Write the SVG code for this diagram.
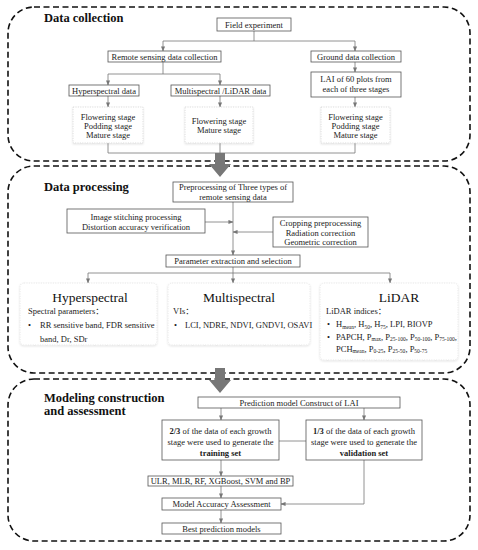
<svg xmlns="http://www.w3.org/2000/svg" width="478" height="550" viewBox="0 0 478 550">
<defs>
<style>
.sec{fill:none;stroke:#111;stroke-width:1.6;stroke-dasharray:6 3.5}
.box{fill:#fff;stroke:#555;stroke-width:0.8}
.soft{fill:#fff;stroke:#d4d4d4;stroke-width:0.8;stroke-dasharray:1.2 1.2}
.panel{fill:#fff;stroke:#e2e2e2;stroke-width:0.8;stroke-dasharray:1.2 1.2}
.t{font-family:"Liberation Serif","Times New Roman",serif;font-size:8.5px;fill:#222;text-anchor:middle}
.tl{font-family:"Liberation Serif","Times New Roman","Noto Sans CJK SC",serif;font-size:8.5px;fill:#222}
.title{font-family:"Liberation Serif","Times New Roman",serif;font-size:12.5px;font-weight:bold;fill:#111}
.ptitle{font-family:"Liberation Serif","Times New Roman",serif;font-size:13.5px;fill:#111;text-anchor:middle}
.sub{font-size:5.5px}
.ln{fill:none;stroke:#777;stroke-width:0.8}
.arr{fill:none;stroke:#777;stroke-width:0.8;marker-end:url(#ah)}
.big{fill:#777}
</style>
<marker id="ah" viewBox="0 0 6 6" refX="5.5" refY="3" markerWidth="5" markerHeight="5" orient="auto" markerUnits="userSpaceOnUse">
<path d="M0,0.5 L6,3 L0,5.5 Z" fill="#777"/>
</marker>
<filter id="sh" x="-10%" y="-10%" width="120%" height="130%">
<feDropShadow dx="0" dy="1" stdDeviation="1.2" flood-color="#000" flood-opacity="0.12"/>
</filter>
</defs>

<g id="sections">
<rect id="sec1" class="sec" x="8" y="7" width="462" height="154" rx="26" ry="26"/>
<rect id="sec2" class="sec" x="8" y="166" width="462" height="207" rx="26" ry="26"/>
<rect id="sec3" class="sec" x="8" y="379" width="462" height="162" rx="26" ry="26"/>
<text class="title" x="44" y="22">Data collection</text>
<text class="title" x="44" y="191">Data processing</text>
<text class="title" x="44" y="402">Modeling construction</text>
<text class="title" x="44" y="415">and assessment</text>
</g>

<g id="connectors">
<path class="ln" d="M254,31 V41 M163,41 H355"/>
<path class="arr" d="M163,41 V51"/>
<path class="arr" d="M355,41 V51"/>
<path class="ln" d="M163,62 V74 M108,74 H220"/>
<path class="arr" d="M108,74 V85"/>
<path class="arr" d="M220,74 V85"/>
<path class="arr" d="M108,96 V107"/>
<path class="arr" d="M220,96 V107"/>
<path class="arr" d="M355,62 V72"/>
<path class="arr" d="M355,97 V107"/>
<path class="ln" d="M108,143 V153 M220,143 V153 M355,143 V153 M108,153 H355"/>
<path class="arr" d="M233,202 V255"/>
<path class="arr" d="M205,222 H233"/>
<path class="arr" d="M273,232 H233"/>
<path class="arr" d="M233,267 V283"/>
<path class="ln" d="M88,273 H390"/>
<path class="arr" d="M88,273 V283"/>
<path class="arr" d="M390,273 V283"/>
<path class="arr" d="M221,408 V420"/>
<path class="arr" d="M364,408 V420"/>
<path class="ln" d="M279,441 H306"/>
<path class="arr" d="M221,460 V476"/>
<path class="arr" d="M221,486 V498"/>
<path class="arr" d="M364,460 V504 H281"/>
<path class="arr" d="M221,510 V523"/>
<path id="bigarrow1" class="big" d="M215,153 H225 V164 H231 L220,177 L209,164 H215 Z"/>
<path id="bigarrow2" class="big" d="M215,368 H225 V380 H231 L220,393 L209,380 H215 Z"/>
</g>

<g id="n-field"><rect class="box" x="217" y="18" width="74" height="13"/><text class="t" x="254" y="27.5">Field experiment</text></g>
<g id="n-remote"><rect class="box" x="108" y="51" width="113" height="11"/><text class="t" x="164.5" y="59.5">Remote sensing data collection</text></g>
<g id="n-ground"><rect class="box" x="311" y="51" width="90" height="11"/><text class="t" x="356" y="59.5">Ground data collection</text></g>
<g id="n-hyper"><rect class="box" x="69" y="85" width="70" height="11"/><text class="t" x="104" y="93.5">Hyperspectral data</text></g>
<g id="n-multi"><rect class="box" x="171" y="85" width="99" height="11"/><text class="t" x="220.5" y="93.5">Multispectral /LiDAR data</text></g>
<g id="n-lai"><rect class="box" x="311" y="72" width="90" height="25"/><text class="t" x="356" y="82">LAI of 60 plots from</text><text class="t" x="356" y="92">each of three stages</text></g>
<g id="n-stage1"><rect class="soft" x="73" y="107" width="70" height="36" filter="url(#sh)"/><text class="t" x="108" y="120">Flowering stage</text><text class="t" x="108" y="129">Podding stage</text><text class="t" x="108" y="138">Mature stage</text></g>
<g id="n-stage2"><rect class="soft" x="185" y="107" width="68" height="36" filter="url(#sh)"/><text class="t" x="219" y="124">Flowering stage</text><text class="t" x="219" y="133">Mature stage</text></g>
<g id="n-stage3"><rect class="soft" x="321" y="107" width="69" height="36" filter="url(#sh)"/><text class="t" x="355.5" y="120">Flowering stage</text><text class="t" x="355.5" y="129">Podding stage</text><text class="t" x="355.5" y="138">Mature stage</text></g>

<g id="n-prep"><rect class="box" x="173" y="182" width="120" height="20"/><text class="t" x="233" y="190">Preprocessing of Three types of</text><text class="t" x="233" y="199.5">remote sensing data</text></g>
<g id="n-stitch"><rect class="box" x="67" y="209" width="138" height="24"/><text class="t" x="136" y="220">Image stitching processing</text><text class="t" x="136" y="230">Distortion accuracy verification</text></g>
<g id="n-crop"><rect class="box" x="273" y="217" width="95" height="30"/><text class="t" x="320.5" y="226">Cropping preprocessing</text><text class="t" x="320.5" y="235.5">Radiation correction</text><text class="t" x="320.5" y="245">Geometric correction</text></g>
<g id="n-param"><rect class="box" x="166" y="255" width="134" height="12"/><text class="t" x="233" y="264">Parameter extraction and selection</text></g>

<g id="n-phyper"><rect class="panel" x="20" y="283" width="137" height="62" rx="4" filter="url(#sh)"/>
<text class="ptitle" x="90" y="302">Hyperspectral</text>
<text class="tl" x="28" y="314">Spectral parameters：</text>
<text class="tl" x="28" y="328">•</text><text class="tl" x="40" y="328">RR sensitive band, FDR sensitive</text>
<text class="tl" x="40" y="342">band, Dr, SDr</text></g>
<g id="n-pmulti"><rect class="panel" x="168" y="283" width="142" height="62" rx="4" filter="url(#sh)"/>
<text class="ptitle" x="239" y="302">Multispectral</text>
<text class="tl" x="173" y="314">VIs：</text>
<text class="tl" x="174" y="328">•</text><text class="tl" x="185" y="328">LCI, NDRE, NDVI, GNDVI, OSAVI</text></g>
<g id="n-plidar"><rect class="panel" x="320" y="283" width="138" height="77" rx="4" filter="url(#sh)"/>
<text class="ptitle" x="399" y="302">LiDAR</text>
<text class="tl" x="326" y="314">LiDAR indices：</text>
<text class="tl" x="327" y="327">•</text><text class="tl" x="336" y="327">H<tspan class="sub" dy="1.5">mean</tspan><tspan dy="-1.5">, H</tspan><tspan class="sub" dy="1.5">50</tspan><tspan dy="-1.5">, H</tspan><tspan class="sub" dy="1.5">75</tspan><tspan dy="-1.5">, LPI, BIOVP</tspan></text>
<text class="tl" x="327" y="339.5">•</text><text class="tl" x="336" y="339.5">PAPCH, P<tspan class="sub" dy="1.5">max</tspan><tspan dy="-1.5">, P</tspan><tspan class="sub" dy="1.5">25-100</tspan><tspan dy="-1.5">, P</tspan><tspan class="sub" dy="1.5">50-100</tspan><tspan dy="-1.5">, P</tspan><tspan class="sub" dy="1.5">75-100</tspan><tspan dy="-1.5">,</tspan></text>
<text class="tl" x="336" y="351.5">PCH<tspan class="sub" dy="1.5">mean</tspan><tspan dy="-1.5">, P</tspan><tspan class="sub" dy="1.5">0-25</tspan><tspan dy="-1.5">, P</tspan><tspan class="sub" dy="1.5">25-50</tspan><tspan dy="-1.5">, P</tspan><tspan class="sub" dy="1.5">50-75</tspan></text></g>

<g id="n-pred"><rect class="box" x="198" y="397" width="202" height="11"/><text class="t" x="299" y="405.5">Prediction model Construct of LAI</text></g>
<g id="n-train"><rect class="box" x="162" y="420" width="117" height="40"/><text class="t" x="220.5" y="434"><tspan font-weight="bold">2/3</tspan> of the data of each growth</text><text class="t" x="220.5" y="445">stage were used to generate the</text><text class="t" x="220.5" y="456" font-weight="bold">training set</text></g>
<g id="n-valid"><rect class="box" x="306" y="420" width="116" height="40"/><text class="t" x="364" y="434"><tspan font-weight="bold">1/3</tspan> of the data of each growth</text><text class="t" x="364" y="445">stage were used to generate the</text><text class="t" x="364" y="456" font-weight="bold">validation set</text></g>
<g id="n-models"><rect class="box" x="148" y="476" width="145" height="10"/><text class="t" x="220.5" y="484">ULR, MLR, RF, XGBoost, SVM and BP</text></g>
<g id="n-assess"><rect class="box" x="162" y="498" width="119" height="12"/><text class="t" x="221.5" y="507">Model Accuracy Assessment</text></g>
<g id="n-best"><rect class="box" x="162" y="523" width="119" height="11"/><text class="t" x="221.5" y="531.5">Best prediction models</text></g>
</svg>
